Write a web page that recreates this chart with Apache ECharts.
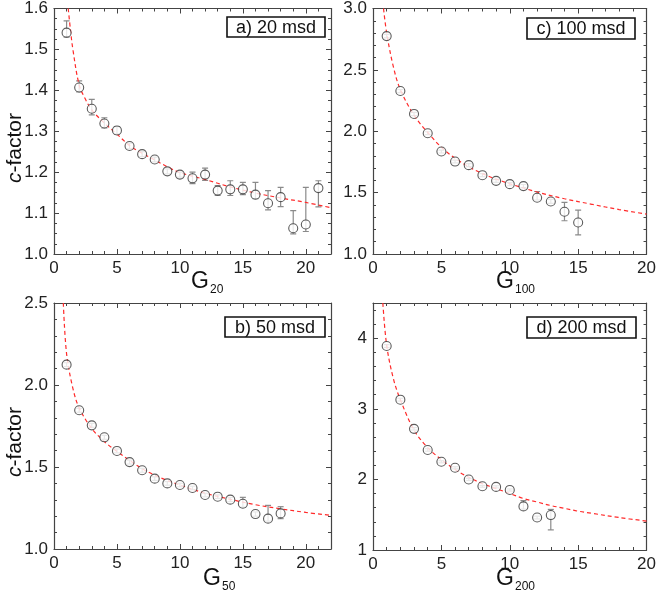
<!DOCTYPE html>
<html><head><meta charset="utf-8">
<script src="https://cdn.jsdelivr.net/npm/echarts@6/dist/echarts.min.js"></script>
<style>html,body{margin:0;padding:0;background:#fff}#c{width:659px;height:595px}</style>
</head><body><div id="c"></div>
<script>
// ---- Data ----
// Panel a) 20 msd
const A_G  = [1,2,3,4,5,6,7,8,9,10,11,12,13,14,15,16,17,18,19,20,21];
const A_c  = [1.541,1.407,1.355,1.319,1.302,1.264,1.244,1.231,1.202,1.194,1.185,1.194,1.155,1.158,1.158,1.145,1.124,1.139,1.063,1.072,1.161];
const A_lo = [1.530,1.396,1.340,1.308,1.293,1.257,1.238,1.225,1.196,1.188,1.172,1.180,1.143,1.143,1.145,1.135,1.108,1.116,1.049,1.055,1.115];
const A_hi = [1.570,1.423,1.378,1.333,1.311,1.271,1.250,1.237,1.208,1.200,1.200,1.210,1.167,1.179,1.175,1.175,1.155,1.163,1.106,1.163,1.179];
const A_fitG = [1.13,1.3,1.5,2,2.5,3,4,5,6,7,8,9,10,12,14,16,18,20,22];
const A_fitC = [1.60,1.55,1.50,1.413,1.378,1.352,1.320,1.293,1.265,1.246,1.230,1.213,1.199,1.182,1.164,1.149,1.137,1.126,1.113];

// Panel c) 100 msd
const C_G  = [1,2,3,4,5,6,7,8,9,10,11,12,13,14,15];
const C_c  = [2.775,2.328,2.141,1.984,1.835,1.753,1.724,1.642,1.596,1.569,1.553,1.458,1.428,1.344,1.257];
const C_lo = [2.760,2.315,2.128,1.972,1.823,1.742,1.712,1.630,1.584,1.556,1.540,1.440,1.412,1.271,1.155];
const C_hi = [2.790,2.340,2.154,1.996,1.847,1.764,1.736,1.654,1.608,1.582,1.566,1.509,1.445,1.420,1.358];
const C_fitG = [0.77,1,1.5,2,3,4,5,6,7,8,9,10,12,14,16,18,20];
const C_fitC = [3.00,2.80,2.52,2.34,2.13,1.99,1.87,1.78,1.71,1.655,1.61,1.572,1.505,1.45,1.405,1.362,1.325];

// Panel b) 50 msd
const B_G  = [1,2,3,4,5,6,7,8,9,10,11,12,13,14,15,16,17,18];
const B_c  = [2.124,1.846,1.754,1.681,1.598,1.530,1.480,1.429,1.400,1.390,1.372,1.329,1.319,1.301,1.276,1.213,1.185,1.217];
const B_lo = [2.112,1.834,1.742,1.669,1.586,1.518,1.468,1.418,1.389,1.379,1.361,1.318,1.308,1.289,1.255,1.200,1.170,1.185];
const B_hi = [2.136,1.858,1.766,1.693,1.610,1.542,1.492,1.440,1.411,1.401,1.383,1.340,1.330,1.314,1.315,1.226,1.266,1.258];
const B_fitG = [0.74,1,1.5,2,3,4,5,6,7,8,9,10,12,14,16,18,20,22];
const B_fitC = [2.50,2.19,1.98,1.86,1.735,1.655,1.595,1.54,1.49,1.45,1.418,1.39,1.34,1.303,1.27,1.245,1.223,1.205];

// Panel d) 200 msd
const D_G  = [1,2,3,4,5,6,7,8,9,10,11,12,13];
const D_c  = [3.891,3.130,2.717,2.417,2.251,2.165,1.999,1.903,1.894,1.851,1.618,1.461,1.495];
const D_lo = [3.870,3.110,2.700,2.400,2.235,2.150,1.985,1.890,1.880,1.835,1.580,1.440,1.285];
const D_hi = [3.910,3.150,2.735,2.435,2.265,2.180,2.015,1.915,1.910,1.865,1.700,1.480,1.575];
const D_fitG = [0.72,1,1.5,2,3,4,5,6,7,8,9,10,11,12,13,14,15,16,18,20];
const D_fitC = [4.50,3.90,3.42,3.13,2.70,2.45,2.28,2.14,2.03,1.94,1.87,1.80,1.73,1.68,1.63,1.59,1.55,1.52,1.46,1.41];

const panels = [
  {G:A_G,c:A_c,lo:A_lo,hi:A_hi,fg:A_fitG,fc:A_fitC, xmax:22, ymin:1.0, ymax:1.6, yint:0.1, ysplit:4, dec:1,
   grid:{left:54,top:8,width:277,height:246}},
  {G:C_G,c:C_c,lo:C_lo,hi:C_hi,fg:C_fitG,fc:C_fitC, xmax:20, ymin:1.0, ymax:3.0, yint:0.5, ysplit:5, dec:1,
   grid:{left:373,top:8,width:278,height:246}},
  {G:B_G,c:B_c,lo:B_lo,hi:B_hi,fg:B_fitG,fc:B_fitC, xmax:22, ymin:1.0, ymax:2.5, yint:0.5, ysplit:5, dec:1,
   grid:{left:54,top:303,width:277,height:246}},
  {G:D_G,c:D_c,lo:D_lo,hi:D_hi,fg:D_fitG,fc:D_fitC, xmax:20, ymin:1, ymax:4.5, yint:1, ysplit:5, dec:0,
   grid:{left:373,top:303,width:277,height:247}}
];

const FONT = '"Liberation Sans", Arial, Helvetica, sans-serif';
const AX = '#444';
const grids=[], xAxes=[], yAxes=[], series=[], graphics=[];

panels.forEach((p,i)=>{
  grids.push(p.grid);
  const common = {type:'value', gridIndex:i, splitLine:{show:false},
    axisLine:{show:true, onZero:false, lineStyle:{color:AX, width:1.2}},
    axisTick:{show:true, inside:true, length:5, lineStyle:{color:AX}},
    minorTick:{show:true, length:3, lineStyle:{color:AX}}};
  const xa = Object.assign({}, common, {min:0, max:p.xmax, interval:5});
  xa.minorTick = Object.assign({}, common.minorTick, {splitNumber:5});
  xAxes.push(Object.assign({}, xa, {position:'bottom',
    axisLabel:{show:true, fontSize:17, fontFamily:FONT, color:'#222', margin:6,
      formatter:v=> (Math.abs(v%5)<1e-9 ? String(v) : '')}}));
  xAxes.push(Object.assign({}, xa, {position:'top', axisLabel:{show:false}}));
  const ya = Object.assign({}, common, {min:p.ymin, max:p.ymax, interval:p.yint});
  ya.minorTick = Object.assign({}, common.minorTick, {splitNumber:p.ysplit});
  yAxes.push(Object.assign({}, ya, {position:'left',
    axisLabel:{show:true, fontSize:17, fontFamily:FONT, color:'#222', margin:6,
      formatter:v=>{ const k=(v-p.ymin)/p.yint; return Math.abs(k-Math.round(k))<1e-6 ? v.toFixed(p.dec) : ''; }}}));
  yAxes.push(Object.assign({}, ya, {position:'right', axisLabel:{show:false}}));

  const xi = 2*i, yi = 2*i;
  series.push({type:'custom', xAxisIndex:xi, yAxisIndex:yi, z:2, clip:true,
    data:p.G.map((g,k)=>[g,p.lo[k],p.hi[k]]),
    encode:{x:0, y:[1,2]},
    renderItem:(params, api)=>{
      const x=api.value(0), lo=api.value(1), hi=api.value(2);
      const a=api.coord([x,hi]), b=api.coord([x,lo]); const w=3;
      const st={stroke:'#8a8a8a', lineWidth:1.2};
      return {type:'group', children:[
        {type:'line', shape:{x1:a[0],y1:a[1],x2:b[0],y2:b[1]}, style:st},
        {type:'line', shape:{x1:a[0]-w,y1:a[1],x2:a[0]+w,y2:a[1]}, style:st},
        {type:'line', shape:{x1:b[0]-w,y1:b[1],x2:b[0]+w,y2:b[1]}, style:st}
      ]};
    }});
  series.push({type:'line', xAxisIndex:xi, yAxisIndex:yi, z:3, smooth:0.35, symbol:'none', clip:true,
    data:p.fg.map((g,k)=>[g,p.fc[k]]),
    lineStyle:{color:'#ff2a2a', width:1.2, type:[4,3]}});
  series.push({type:'scatter', xAxisIndex:xi, yAxisIndex:yi, z:4, symbol:'circle', symbolSize:9,
    data:p.G.map((g,k)=>[g,p.c[k]]),
    itemStyle:{color:'#fff', borderColor:'#333', borderWidth:1.1}});
});

// panel labels (boxed)
const boxes = [
  {x:227,y:17,w:98,h:20,t:'a) 20 msd'},
  {x:527,y:18,w:108,h:21,t:'c) 100 msd'},
  {x:225,y:317,w:100,h:20,t:'b) 50 msd'},
  {x:527,y:317,w:109,h:21,t:'d) 200 msd'}
];
boxes.forEach(b=>{
  graphics.push({type:'rect', shape:{x:b.x,y:b.y,width:b.w,height:b.h}, style:{fill:'#fff', stroke:'#111', lineWidth:1.6}, z:100});
  graphics.push({type:'text', x:b.x+b.w/2, y:b.y+b.h/2+1, z:101,
    style:{text:b.t, font:'18px '+FONT, fill:'#111', align:'center', verticalAlign:'middle'}});
});
// y axis titles
[[15,148],[15,442]].forEach(([x,y])=>{
  graphics.push({type:'text', x:x, y:y, rotation:Math.PI/2, z:100,
    style:{text:'{i|c}-factor', font:'21px '+FONT, fill:'#111', align:'center', verticalAlign:'middle',
      rich:{i:{fontStyle:'italic', fontSize:21, fontFamily:FONT, fill:'#111'}}}});
});
// x axis titles G with subscripts
const xt = [
  {gx:191, gy:282, sy:290, s:'20'},
  {gx:496, gy:282, sy:290, s:'100'},
  {gx:203, gy:579, sy:587, s:'50'},
  {gx:496, gy:579, sy:587, s:'200'}
];
xt.forEach(t=>{
  graphics.push({type:'text', x:t.gx, y:t.gy, z:100, style:{text:'G', font:'23px '+FONT, fill:'#111', align:'left', verticalAlign:'middle'}});
  graphics.push({type:'text', x:t.gx+19, y:t.sy, z:100, style:{text:t.s, font:'12px '+FONT, fill:'#111', align:'left', verticalAlign:'middle'}});
});

const chart = echarts.init(document.getElementById('c'), null, {renderer:'canvas'});
chart.setOption({animation:false, backgroundColor:'#fff', grid:grids, xAxis:xAxes, yAxis:yAxes, series:series, graphic:graphics});
</script></body></html>
